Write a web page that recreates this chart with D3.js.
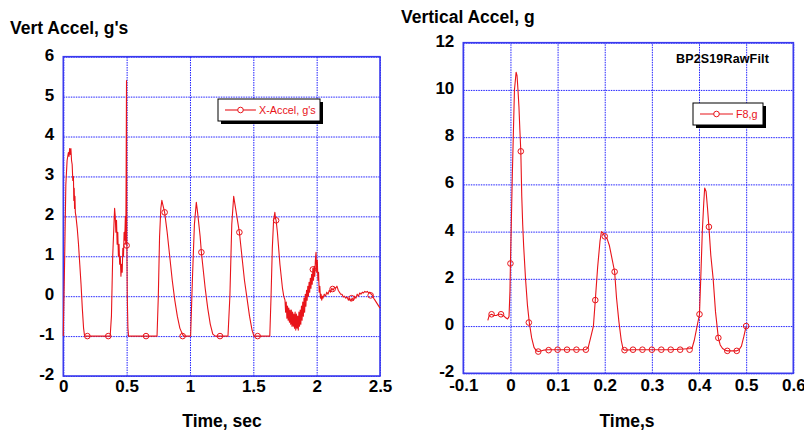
<!DOCTYPE html>
<html>
<head>
<meta charset="utf-8">
<script src="https://cdn.jsdelivr.net/npm/d3@7"></script>
<style>
  body { margin: 0; background: #fff; }
  svg { font-family: "Liberation Sans", Arial, sans-serif; }
</style>
</head>
<body>
<div id="chart"></div>
<script>
// ---- left panel: X-Accel, g's vs time (sec) ----
var xAccel = [
  [0,-1],[0.002,-0.55],[0.01,0.8],[0.02,2.8],[0.03,3.4],[0.04,3.6],[0.045,3.5],[0.05,3.7],[0.055,3.55],[0.06,3.7],
  [0.065,3.4],[0.07,3.3],[0.075,2.9],[0.08,3.0],[0.083,2.4],[0.086,2.7],[0.089,2.2],[0.092,2.5],[0.095,2.1],[0.1,2.0],
  [0.11,1.7],[0.12,1.3],[0.13,0.8],[0.14,0.3],[0.15,-0.3],[0.16,-0.8],[0.168,-1.0],
  [0.37,-1.0],[0.38,-0.5],[0.39,1.0],[0.4,1.8],[0.405,2.2],[0.41,2.0],[0.415,1.6],[0.42,1.9],[0.425,1.3],[0.43,1.6],
  [0.435,1.0],[0.44,1.3],[0.445,0.8],[0.45,1.0],[0.455,0.5],[0.46,0.8],[0.465,0.6],[0.47,1.2],[0.475,1.0],[0.48,1.6],
  [0.485,1.4],[0.49,2.0],[0.493,1.3],[0.496,3.0],[0.499,5.4],[0.501,1.5],[0.505,0.0],[0.51,-0.8],[0.515,-1.0],
  [0.74,-1],[0.75,0],[0.76,1.5],[0.77,2.2],[0.778,2.4],[0.785,2.3],[0.8,2.1],[0.82,1.6],[0.84,1.0],[0.86,0.4],
  [0.88,-0.1],[0.9,-0.5],[0.92,-0.8],[0.94,-0.95],[0.95,-1.0],
  [1.005,-1],[1.02,0.5],[1.035,1.8],[1.05,2.35],[1.06,2.1],[1.08,1.5],[1.09,1.1],[1.1,0.8],[1.12,0.2],[1.14,-0.3],
  [1.16,-0.7],[1.18,-0.95],[1.2,-1.0],
  [1.3,-1],[1.315,0],[1.33,1.8],[1.345,2.5],[1.355,2.3],[1.37,2.0],[1.39,1.6],[1.41,1.0],[1.43,0.4],[1.45,-0.05],
  [1.47,-0.5],[1.49,-0.85],[1.505,-1.0],
  [1.63,-1],[1.64,0],[1.65,1.2],[1.66,1.9],[1.67,2.1],[1.675,1.95],[1.68,1.9],[1.69,1.6],[1.7,1.2],[1.71,0.8],
  [1.72,0.5],[1.73,0.2],[1.74,0.0],
  [1.75,-0.1],[1.755,-0.4],[1.76,-0.15],[1.765,-0.55],[1.77,-0.25],[1.775,-0.6],[1.78,-0.3],[1.785,-0.65],[1.79,-0.35],
  [1.795,-0.7],[1.8,-0.35],[1.805,-0.75],[1.81,-0.4],[1.815,-0.75],[1.82,-0.45],[1.825,-0.8],[1.83,-0.4],[1.835,-0.85],
  [1.84,-0.45],[1.845,-0.8],[1.85,-0.5],[1.855,-0.85],[1.86,-0.4],[1.865,-0.75],[1.87,-0.35],[1.875,-0.7],[1.88,-0.25],
  [1.885,-0.6],[1.89,-0.15],[1.895,-0.5],[1.9,-0.05],[1.905,-0.4],[1.91,0.05],[1.915,-0.25],[1.92,0.15],[1.925,-0.1],
  [1.93,0.25],[1.935,0.0],[1.94,0.35],[1.945,0.1],[1.95,0.45],[1.955,0.2],[1.96,0.55],[1.965,0.3],[1.97,0.7],
  [1.975,0.4],[1.98,0.75],[1.985,0.5],[1.99,0.9],[1.995,1.1],[2.0,0.6],[2.005,0.9],[2.01,0.4],[2.015,0.6],[2.02,0.1],
  [2.025,0.25],[2.03,-0.05],[2.035,0.05],[2.04,-0.1],[2.045,0.0],[2.05,-0.05],[2.06,0.05],[2.07,0.0],[2.08,0.1],
  [2.09,0.05],[2.1,0.15],[2.11,0.1],[2.12,0.2],[2.13,0.15],[2.14,0.22],[2.15,0.2],[2.16,0.25],[2.17,0.15],[2.18,0.1],
  [2.19,0.05],[2.2,0.05],[2.21,-0.02],[2.22,0.0],[2.23,-0.05],[2.24,-0.02],[2.25,-0.1],[2.26,-0.05],[2.27,-0.12],
  [2.28,-0.05],[2.29,-0.1],[2.3,0.0],[2.31,-0.05],[2.32,0.05],[2.33,0.0],[2.34,0.08],[2.35,0.05],[2.36,0.1],
  [2.37,0.08],[2.38,0.12],[2.39,0.1],[2.4,0.12],[2.41,0.08],[2.42,0.1],[2.43,0.05],[2.44,0.02],[2.45,-0.05],
  [2.46,-0.1],[2.47,-0.15],[2.48,-0.2],[2.49,-0.25],[2.5,-0.3]
]
var xAccelMarkers = [
  [0.19,-1],[0.355,-1],[0.5,1.27],[0.653,-1],[0.8,2.1],[0.942,-1],[1.09,1.1],[1.237,-1],[1.39,1.6],[1.534,-1],
  [1.68,1.9],[1.97,0.67],[2.126,0.18],[2.276,-0.05],[2.426,0.02]
]
var leftXTicks = [0, 0.5, 1, 1.5, 2, 2.5]
var leftYTicks = [-2, -1, 0, 1, 2, 3, 4, 5, 6]

// ---- right panel: F8,g vs time (s) ----
var f8 = [
  [-0.048,0.24],[-0.045,0.45],[-0.04,0.5],[-0.035,0.45],[-0.03,0.45],[-0.025,0.5],[-0.02,0.5],[-0.015,0.45],
  [-0.01,0.35],[-0.006,0.3],[-0.003,0.4],[-0.001,1.5],[0,2.65],[0.002,4.5],[0.004,6.4],[0.006,8.0],[0.0085,10.0],
  [0.012,10.75],[0.014,10.6],[0.016,10.0],[0.018,9.3],[0.02,8.3],[0.022,7.4],[0.024,5.5],[0.026,4.3],[0.028,3.4],
  [0.032,2.0],[0.036,0.9],[0.04,0.15],[0.045,-0.5],[0.05,-0.9],[0.055,-1.05],[0.06,-1.08],[0.07,-1.02],[0.08,-1.0],
  [0.1,-1.0],[0.12,-1.0],[0.14,-1.0],[0.16,-1.0],[0.165,-0.9],[0.17,-0.5],[0.176,0.0],[0.18,1.1],[0.185,2.5],
  [0.19,3.6],[0.193,4.0],[0.196,3.95],[0.2,3.8],[0.205,3.7],[0.21,3.4],[0.215,2.9],[0.221,2.3],[0.225,1.2],
  [0.23,0.2],[0.235,-0.6],[0.239,-0.98],[0.242,-1.02],[0.26,-1.0],[0.3,-1.0],[0.34,-1.0],[0.385,-0.95],
  [0.39,-0.6],[0.395,-0.1],[0.401,0.5],[0.404,2.2],[0.407,4.0],[0.41,5.2],[0.412,5.85],[0.415,5.7],[0.418,5.0],
  [0.421,4.2],[0.425,3.0],[0.43,2.0],[0.435,0.6],[0.441,-0.5],[0.445,-0.8],[0.45,-0.95],[0.456,-1.02],
  [0.46,-1.05],[0.47,-1.05],[0.48,-1.05],[0.485,-1.0],[0.49,-0.85],[0.495,-0.45],[0.5,0.0]
]
var f8Markers = [
  [-0.04,0.5],[-0.02,0.5],[0,2.65],[0.022,7.4],[0.039,0.15],[0.059,-1.08],[0.081,-1.02],[0.1,-1.0],[0.12,-1.0],
  [0.14,-1.0],[0.16,-1.0],[0.18,1.1],[0.2,3.8],[0.221,2.3],[0.242,-1.02],[0.26,-1.0],[0.28,-1.0],[0.3,-1.0],
  [0.32,-1.0],[0.34,-1.0],[0.36,-1.0],[0.38,-1.0],[0.401,0.5],[0.421,4.2],[0.441,-0.5],[0.46,-1.05],[0.48,-1.05],
  [0.5,0.0]
]
var rightXTicks = [-0.1, 0, 0.1, 0.2, 0.3, 0.4, 0.5, 0.6]
var rightYTicks = [-2, 0, 2, 4, 6, 8, 10, 12]

var svg = d3.select("#chart").append("svg")
  .attr("width", 804)
  .attr("height", 432)

// plain hyphen for negatives, like the original plot
function fmt(d) { return String(d) }

function draw_panel(p) {
  var x = d3.scaleLinear().domain(p.xDomain).range([p.left, p.right])
  var y = d3.scaleLinear().domain(p.yDomain).range([p.bottom, p.top])
  var g = svg.append("g")

  // grid lines (dotted blue)
  g.append("g")
    .attr("transform", "translate(0," + p.bottom + ")")
    .call(d3.axisBottom(x).tickValues(p.xTicks).tickSize(-(p.bottom - p.top)).tickFormat(""))
    .call(function(s) { s.select(".domain").remove() })
    .selectAll("line")
      .attr("stroke", "#1f1fff")
      .attr("stroke-dasharray", "1.5,1")
  g.append("g")
    .attr("transform", "translate(" + p.left + ",0)")
    .call(d3.axisLeft(y).tickValues(p.yTicks).tickSize(-(p.right - p.left)).tickFormat(""))
    .call(function(s) { s.select(".domain").remove() })
    .selectAll("line")
      .attr("stroke", "#1f1fff")
      .attr("stroke-dasharray", "1.5,1")

  // frame
  g.append("rect")
    .attr("x", p.left).attr("y", p.top)
    .attr("width", p.right - p.left).attr("height", p.bottom - p.top)
    .attr("fill", "none")
    .attr("stroke", "#3a3aee")
    .attr("stroke-width", 1.6)

  // tick labels
  var xa = g.append("g")
    .attr("transform", "translate(0," + p.bottom + ")")
    .call(d3.axisBottom(x).tickValues(p.xTicks).tickSize(0).tickPadding(p.xPad).tickFormat(fmt))
  var ya = g.append("g")
    .attr("transform", "translate(" + p.left + ",0)")
    .call(d3.axisLeft(y).tickValues(p.yTicks).tickSize(0).tickPadding(9).tickFormat(fmt))
  ;[xa, ya].forEach(function(a) {
    a.select(".domain").remove()
    a.selectAll("text")
      .style("font-family", "Liberation Sans, Arial, sans-serif")
      .style("font-size", "17px")
      .style("font-weight", "bold")
      .attr("fill", "#000")
  })
  ya.selectAll("text").attr("dy", "0.2em")

  // series line
  var line = d3.line()
    .x(function(d) { return x(d[0]) })
    .y(function(d) { return y(d[1]) })
  g.append("path")
    .datum(p.data)
    .attr("fill", "none")
    .attr("stroke", "#e8141a")
    .attr("stroke-width", 1.1)
    .attr("stroke-linejoin", "round")
    .attr("d", line)

  g.selectAll(null)
    .data(p.markers)
    .enter()
    .append("circle")
      .attr("cx", function(d) { return x(d[0]) })
      .attr("cy", function(d) { return y(d[1]) })
      .attr("r", 2.8)
      .attr("fill", "none")
      .attr("stroke", "#e8141a")
      .attr("stroke-width", 1)

  // titles
  g.append("text")
    .attr("x", p.yTitleX).attr("y", p.yTitleY)
    .style("font-size", "17.5px").style("font-weight", "bold")
    .text(p.yTitle)
  g.append("text")
    .attr("x", p.xTitleX).attr("y", 427)
    .attr("text-anchor", "middle")
    .style("font-size", "17.5px").style("font-weight", "bold")
    .text(p.xTitle)

  // legend box with shadow
  var lg = p.legend
  g.append("rect")
    .attr("x", lg.x + 3).attr("y", lg.y + 3)
    .attr("width", lg.w).attr("height", lg.h)
    .attr("fill", "#000")
  g.append("rect")
    .attr("x", lg.x).attr("y", lg.y)
    .attr("width", lg.w).attr("height", lg.h)
    .attr("fill", "#fff").attr("stroke", "#000").attr("stroke-width", 1)
  var ly = lg.y + lg.h / 2
  g.append("line")
    .attr("x1", lg.x + 7).attr("x2", lg.x + 7 + lg.lineW)
    .attr("y1", ly).attr("y2", ly)
    .attr("stroke", "#e8141a").attr("stroke-width", 1.1)
  g.append("circle")
    .attr("cx", lg.x + 7 + lg.lineW / 2).attr("cy", ly).attr("r", 2.8)
    .attr("fill", "#fff").attr("stroke", "#e8141a")
  g.append("text")
    .attr("x", lg.x + 10 + lg.lineW).attr("y", ly + 4)
    .attr("fill", "#e8141a")
    .style("font-size", lg.fs + "px")
    .text(lg.label)

  return g
}

draw_panel({
  data: xAccel, markers: xAccelMarkers,
  xDomain: [0, 2.5], yDomain: [-2, 6], xTicks: leftXTicks, yTicks: leftYTicks,
  left: 63.3, right: 380, top: 56.7, bottom: 376, xPad: 4,
  yTitle: "Vert Accel, g's", yTitleX: 10, yTitleY: 34,
  xTitle: "Time, sec", xTitleX: 222,
  legend: { x: 218, y: 99, w: 102, h: 22, lineW: 31, fs: 10.8, label: "X-Accel, g's" }
})

var rg = draw_panel({
  data: f8, markers: f8Markers,
  xDomain: [-0.1, 0.6], yDomain: [-2, 12], xTicks: rightXTicks, yTicks: rightYTicks,
  left: 463.3, right: 793.3, top: 42.7, bottom: 373.3, xPad: 6,
  yTitle: "Vertical Accel, g", yTitleX: 401, yTitleY: 23,
  xTitle: "Time,s", xTitleX: 627,
  legend: { x: 693, y: 103, w: 70, h: 22, lineW: 33, fs: 10.8, label: "F8,g" }
})

rg.append("text")
  .attr("x", 676).attr("y", 63)
  .style("font-size", "12.5px").style("font-weight", "bold")
  .style("letter-spacing", "0.15px")
  .text("BP2S19RawFilt")
</script>
</body>
</html>
